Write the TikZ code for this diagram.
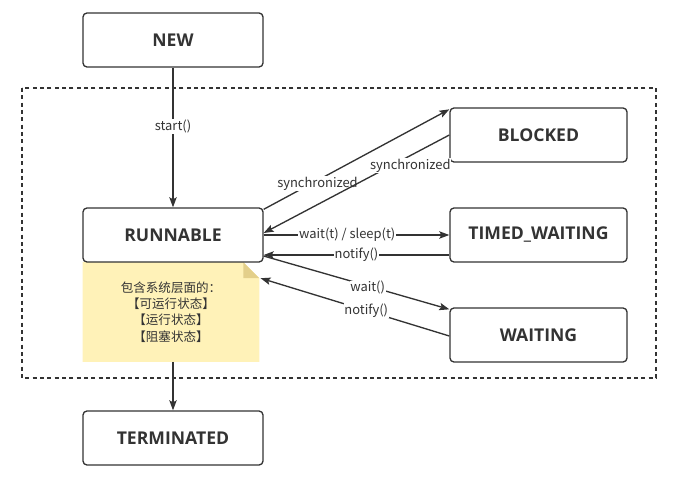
\documentclass[tikz,border=0pt]{standalone}
\usepackage{fontspec}
\setmainfont{Noto Sans CJK SC}
\newfontfamily\boxfont{Open Sans}
\usetikzlibrary{arrows.meta,backgrounds}
\definecolor{ink}{HTML}{333333}
\definecolor{notefill}{HTML}{FFF2B8}
\definecolor{notefold}{HTML}{E3CF8A}
\tikzset{
  state/.style={draw=ink, line width=1pt, rounded corners=3pt, fill=white,
    minimum height=40.5pt, inner sep=0pt, text=ink,
    font=\boxfont\fontsize{13.2pt}{15pt}\selectfont\bfseries},
  conn/.style={draw=ink, line width=1pt, -{Stealth[length=7.5pt,width=5.5pt,inset=1.5pt]}},
  lbl/.style={fill=white, inner sep=0.6pt, text=ink, font=\fontsize{9.7pt}{11pt}\selectfont},
}
\begin{document}
\begin{tikzpicture}[x=0.75pt,y=-0.75pt]
\useasboundingbox (0,0) rectangle (678,481);
% dashed frame
\draw[ink, line width=0.9pt, dash pattern=on 3pt off 2.5pt] (22,88) rectangle (656,378);
% states
\node[state, minimum width=135pt] (new) at (173,40) {NEW};
\node[state, minimum width=135pt] (run) at (173,235) {RUNNABLE};
\node[state, minimum width=135pt] (term) at (173,438) {TERMINATED};
\node[state, minimum width=132.75pt] (blk) at (538.5,135) {BLOCKED};
\node[state, minimum width=132.75pt] (tw) at (538.5,235) {TIMED\_WAITING};
\node[state, minimum width=132.75pt] (wt) at (538.5,335) {WAITING};
% note
\node[minimum width=132pt, minimum height=74.25pt, inner sep=0pt, align=center, text=ink,
      font=\fontsize{9.4pt}{12.3pt}\selectfont] (note) at (171,312)
  {包含系统层面的：\\【可运行状态】\\【运行状态】\\【阻塞状态】};
\begin{scope}[on background layer]
  \fill[notefill] (note.north west) -- ([xshift=-12pt]note.north east)
     -- ([yshift=-12pt]note.north east) -- (note.south east) -- (note.south west) -- cycle;
  \fill[notefold] ([xshift=-12pt]note.north east) -- ([xshift=-12pt,yshift=-12pt]note.north east)
     -- ([yshift=-12pt]note.north east) -- cycle;
\end{scope}
% connectors
\draw[conn] (new.south) -- node[lbl, pos=0.42] {start()} (run.north);
\draw[conn] (note.south -| term.north) -- (term.north);
\draw[conn] ([yshift=-1.5pt]run.north east) -- node[lbl, pos=0.29, yshift=-2.5pt] {synchronized} ([yshift=-1.5pt]blk.north west);
\draw[conn] (blk.west) -- node[lbl, pos=0.21, yshift=-7.5pt] {synchronized} ([yshift=1.5pt]run.east);
\draw[conn] (run.east) -- node[lbl, pos=0.45] {wait(t) / sleep(t)} (tw.west);
\draw[conn] ([yshift=-15pt]tw.west) -- node[lbl, pos=0.5] {notify()} ([yshift=-15pt]run.east);
\draw[conn] ([yshift=-15.75pt]run.east) -- node[lbl, pos=0.56, yshift=-1.5pt] {wait()} ([yshift=-1.5pt]wt.north west);
\draw[conn] ([yshift=-0.75pt]wt.west) -- node[lbl, pos=0.44] {notify()} ([xshift=1pt,yshift=-12pt]note.north east);
\end{tikzpicture}
\end{document}
